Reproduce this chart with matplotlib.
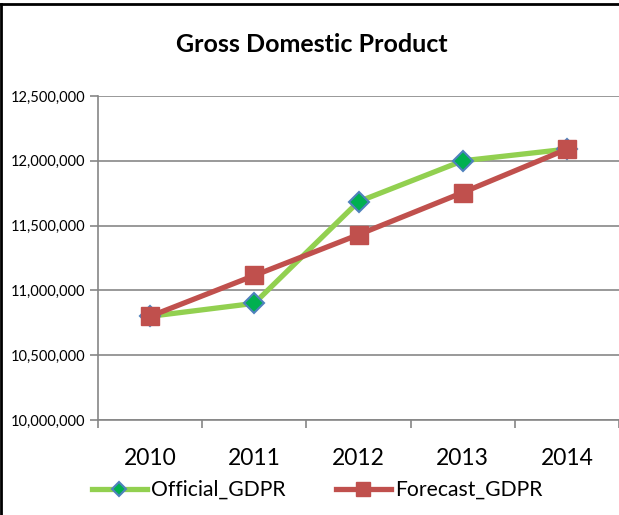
import matplotlib.pyplot as plt
from matplotlib.lines import Line2D
from matplotlib.ticker import FuncFormatter, FixedLocator
import numpy as np

# GDP series, official vs forecast
years = ["2010", "2011", "2012", "2013", "2014"]
official_gdpr = [10800000, 10900000, 11685000, 12000000, 12090000]
forecast_gdpr = [10800000, 11115000, 11430000, 11755000, 12090000]

plt.rcParams['font.family'] = ['Lato', 'DejaVu Sans']

fig = plt.figure(figsize=(6.19, 5.15), dpi=100)
ax = fig.add_axes([98/619, 95/515, 521/619, 324/515])

x = np.arange(len(years))
ax.plot(x, official_gdpr, color="#92D050", linewidth=3.8, marker="D",
        markersize=10, markerfacecolor="#00B050", markeredgecolor="#4F81BD",
        markeredgewidth=1.5, label="Official_GDPR", zorder=3)
ax.plot(x, forecast_gdpr, color="#C0504D", linewidth=3.8, marker="s",
        markersize=13, markerfacecolor="#C0504D", markeredgecolor="#C0504D",
        label="Forecast_GDPR", zorder=4)

ax.set_xlim(-0.5, 4.5)
ax.set_ylim(10000000, 12500000)
ax.set_yticks(np.arange(10000000, 12500001, 500000))
ax.yaxis.set_major_formatter(FuncFormatter(lambda v, p: f"{int(v):,}"))
ax.grid(axis="y", color="#878787", linewidth=1.2)
ax.set_axisbelow(True)

# category axis: ticks between categories, labels centred
ax.xaxis.set_major_locator(FixedLocator(np.arange(-0.5, 5, 1)))
ax.xaxis.set_major_formatter(FuncFormatter(lambda v, p: ""))
ax.set_xticks(x, years, minor=True)
ax.tick_params(axis="x", which="major", length=6, width=1.2, color="#868686", direction="out")
ax.tick_params(axis="x", which="minor", length=0, labelsize=16.5, pad=20)
ax.tick_params(axis="y", length=6, width=1.2, color="#868686", labelsize=10.5, pad=3)

for s in ["top", "right"]:
    ax.spines[s].set_visible(False)
for s in ["left", "bottom"]:
    ax.spines[s].set_color("#868686")
    ax.spines[s].set_linewidth(1.2)

fig.text(312/619, 1 - 44/515, "Gross Domestic Product", ha="center", va="center",
         fontsize=18, fontweight="bold")

fig.legend(loc="center", bbox_to_anchor=(317/619, 1 - 490/515), ncol=2, frameon=False,
           fontsize=15.2, handlelength=2.6, columnspacing=2.4, handletextpad=0.2,
           markerscale=0.75)

# chart border
fig.add_artist(Line2D([1/619, 1/619], [0, 1 - 4/515], color="black", linewidth=2))
fig.add_artist(Line2D([1/619, 1], [1 - 4/515, 1 - 4/515], color="black", linewidth=2))

fig.savefig("out.png", dpi=100)
